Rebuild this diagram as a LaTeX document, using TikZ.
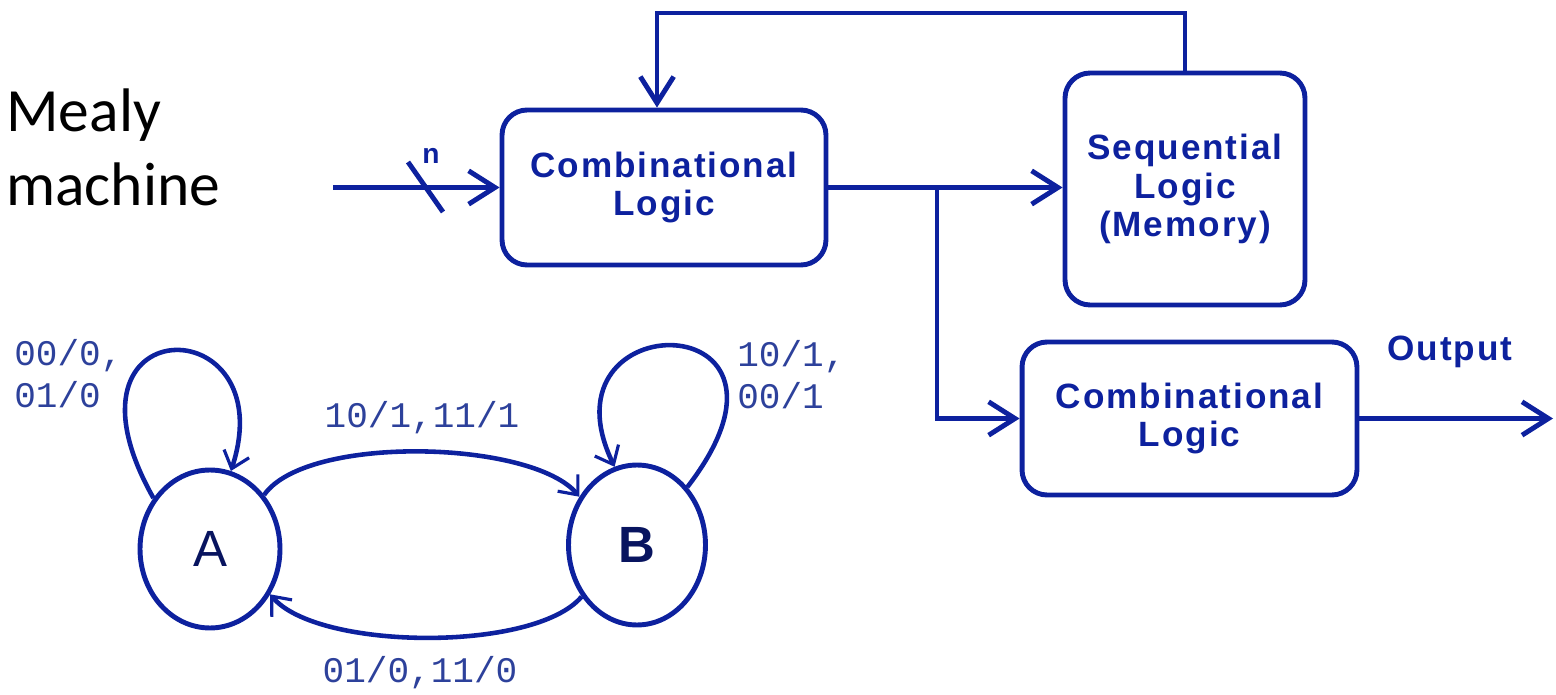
\documentclass[tikz,border=0pt]{standalone}
\usepackage{fontspec}
\setmainfont{Carlito}
\newfontfamily\blockfont[LetterSpace=5.5]{Liberation Sans}
\newfontfamily\statefont{Liberation Sans}
\newfontfamily\labelfont{Liberation Mono}
\usetikzlibrary{arrows.meta,shapes.geometric}
\definecolor{mealyblue}{RGB}{13,33,158}
\definecolor{labelblue}{RGB}{45,65,155}

\begin{document}
\begin{tikzpicture}[x=0.02cm, y=0.02cm, >={Straight Barb[length=15pt,width=19pt]},
  logic/.style={draw=mealyblue, line width=2.8pt, rounded corners=0.5cm, align=center,
    text=mealyblue, font=\blockfont\bfseries\fontsize{20}{22}\selectfont, inner sep=0pt},
  wire/.style={mealyblue, line width=2.8pt},
  state/.style={ellipse, draw=mealyblue, line width=2.8pt, inner sep=0pt,
    text=mealyblue!60!black, font=\statefont\fontsize{29}{30}\selectfont},
  trans/.style={mealyblue, line width=2.6pt, -{Straight Barb[length=9pt,width=15pt,line width=1.8pt]}},
  tlabel/.style={text=labelblue, font=\labelfont\fontsize{20.5}{24}\selectfont, align=left, inner sep=0pt}]
  \useasboundingbox (0,0) rectangle (1556,694);
  \node[anchor=west, align=left, font=\fontsize{35}{42}\selectfont, inner sep=0pt] (title) at (6,547) {Mealy\\machine};

  % block diagram
  \node[logic, minimum width=6.48cm, minimum height=3.1cm] (comb1) at (664,506.5) {Combinational\\Logic};
  \node[logic, minimum width=4.8cm, minimum height=4.64cm] (seq) at (1185,505) {Sequential\\Logic\\(Memory)};
  \node[logic, minimum width=6.7cm, minimum height=3.06cm] (comb2) at (1189.5,275.5) {Combinational\\Logic};

  \coordinate (in) at (333,506.5);
  \coordinate (split) at (937,506.5);
  \coordinate (top) at (657,681);
  \coordinate (out) at (1553,275.5);

  \draw[wire,->] (in) -- (comb1.west);
  \draw[wire] (408,532) -- (443,482);
  \node[text=mealyblue, font=\statefont\bfseries\fontsize{16}{16}\selectfont, inner sep=0pt] (n) at (431,538) {n};
  \draw[wire,->] (comb1.east) -- (comb1.east -| seq.west);
  \draw[wire,->] (split) |- (comb2.west);
  \draw[wire,->] (seq.north) |- (top) -- (comb1.north -| top);
  \draw[wire,->] (comb2.east) -- (out);
  \node[text=mealyblue, font=\blockfont\bfseries\fontsize{20}{22}\selectfont, inner sep=0pt] (output) at (1450,342) {Output};

  % state diagram
  \node[state, minimum width=2.8cm, minimum height=3.16cm] (A) at (210,145) {A};
  \node[state, minimum width=2.74cm, minimum height=3.2cm, font=\statefont\bfseries\fontsize{29}{30}\selectfont] (B) at (637,149) {B};
  \draw[trans] (A.45) to[out=55,in=130,looseness=0.6] (B.140);
  \draw[trans] (B.223) to[out=-130,in=-50,looseness=0.6] (A.323);
  \draw[trans] (A.138) .. controls (45,388) and (285,388) .. (A.75);
  \draw[trans] (B.49) .. controls (830,392) and (535,392) .. (B.106);

  \node[tlabel] (ab) at (422,276) {10/1,11/1};
  \node[tlabel] (ba) at (420,21) {01/0,11/0};
  \node[tlabel, anchor=west] (aa) at (14,320) {00/0,\\01/0};
  \node[tlabel, anchor=west] (bb) at (737,319) {10/1,\\00/1};
\end{tikzpicture}
\end{document}
